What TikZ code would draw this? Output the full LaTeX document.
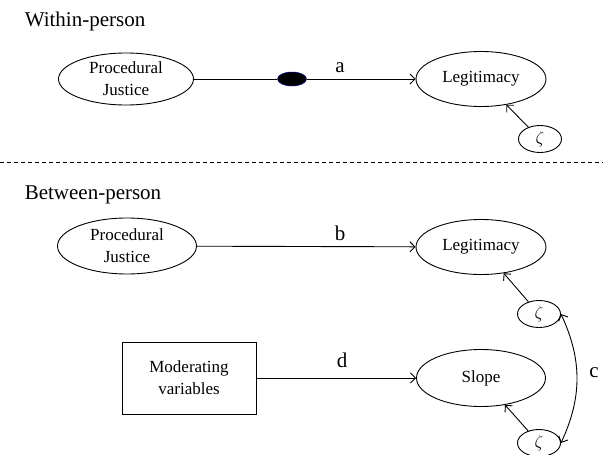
\documentclass[tikz,border=0pt]{standalone}
\usepackage{fontspec}
\setmainfont{Liberation Serif}
\usepackage{amsmath}
\usepackage{tikz}
\usetikzlibrary{calc,arrows.meta,shapes.geometric}

\begin{document}
\begin{tikzpicture}[x=1pt,y=-1pt,line width=0.9pt,
		>={Straight Barb[length=5pt,width=10pt]},
		latent/.style={draw,ellipse,inner sep=0pt,minimum width=130pt,minimum height=55pt,align=center,font=\fontsize{17}{22}\selectfont},
		resid/.style={draw,ellipse,inner sep=0pt,minimum width=43pt,minimum height=27pt,font=\fontsize{17}{20}\selectfont},
		observed/.style={draw,rectangle,inner sep=0pt,minimum width=134pt,minimum height=72pt,align=center,font=\fontsize{17}{22}\selectfont},
		pathlbl/.style={anchor=base,font=\fontsize{21}{24}\selectfont},
		title/.style={anchor=base west,font=\fontsize{21}{24}\selectfont}]
			\useasboundingbox (0,0) rectangle (603,455);
			
			% within-person
			\node[title] (tW) at (21,27) {Within-person};
			\node[latent,minimum width=135pt,minimum height=52pt] (pjA) at (126,79) {Procedural\\Justice};
			\node[latent] (legA) at (481,79) {Legitimacy};
			\node[resid] (zA) at (540,139) {$\zeta$};
			\node[ellipse,fill=black,draw=blue!55!black,line width=0.5pt,inner sep=0pt,minimum width=29pt,minimum height=14pt] (dot) at (292,79) {};
			\draw (pjA) -- (dot);
			\draw[->] (dot) -- (legA);
			\node[pathlbl] (la) at (340,72) {a};
			
			\draw[line width=0.8pt,dash pattern=on 4pt off 3pt] (0,162) -- (603,162);
			
			% between-person
			\node[title] (tB) at (21,199) {Between-person};
			\node[latent,minimum width=139pt,minimum height=56pt] (pjB) at (127,246) {Procedural\\Justice};
			\node[latent] (legB) at (481,247) {Legitimacy};
			\node[resid] (zB) at (539,314) {$\zeta$};
			\node[observed] (mod) at (189,378) {Moderating\\variables};
			\node[latent,minimum width=129pt,minimum height=57pt] (slope) at (481,378) {Slope};
			\node[resid] (zC) at (539,443) {$\zeta$};
			\draw[->] (pjB) -- (legB);
			\draw[->] (mod) -- (slope);
			\node[pathlbl] (lb) at (340,240) {b};
			\node[pathlbl] (ld) at (342,367) {d};
			
			\foreach \z/\t in {zA/legA,zB/legB,zC/slope}{
				\draw[->] (\z) -- (\t);
			}
			\draw[<->] (zB.east) to[bend left=25] (zC.east);
			\node[pathlbl] (lc) at (594,377) {c};
		\end{tikzpicture}
\end{document}
